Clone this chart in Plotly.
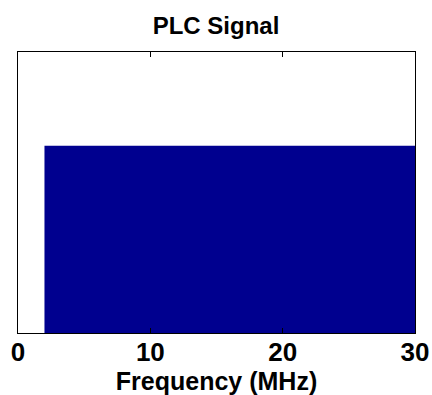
import plotly.graph_objects as go

# Data
band_freq_mhz = [2, 30]      # PLC band edges (MHz)
band_level = [1, 1]          # normalized signal level
x_ticks = [0, 10, 20, 30]
x_range = [0, 30]
y_range = [0, 1.5]

fig = go.Figure()
fig.add_trace(go.Scatter(
    x=band_freq_mhz, y=band_level,
    mode="lines", fill="tozeroy",
    fillcolor="rgb(0,0,143)",
    line=dict(width=0, color="rgb(0,0,143)"),
    showlegend=False, hoverinfo="skip",
))

arial = "Liberation Sans, Arial, sans-serif"
fig.update_layout(
    width=432, height=395,
    margin=dict(l=18, r=17, t=52, b=62, autoexpand=False),
    paper_bgcolor="white", plot_bgcolor="white",
    title=dict(text="PLC Signal", x=0.5, xanchor="center",
               y=1 - 26 / 395, yanchor="middle",
               font=dict(family=arial, size=24, color="black", weight="bold")),
    xaxis=dict(
        range=x_range, tickvals=x_ticks, ticktext=[str(t) for t in x_ticks],
        showline=True, linecolor="black", linewidth=1, mirror="allticks",
        ticks="inside", ticklen=5, tickcolor="black",
        showgrid=False, zeroline=False, automargin=True,
        ticklabelstandoff=-4,
        tickfont=dict(family=arial, size=26, color="black", weight="bold"),
        title=dict(text="Frequency (MHz)", standoff=0,
                   font=dict(family=arial, size=25, color="black", weight="bold")),
    ),
    yaxis=dict(
        range=y_range, showline=True, linecolor="black", linewidth=1, mirror=True,
        ticks="", showticklabels=False, showgrid=False, zeroline=False,
        automargin=False,
    ),
)
fig.write_html("out.html", config={"displayModeBar": False},
               post_script="document.body.style.margin='0';document.body.style.padding='0';")
